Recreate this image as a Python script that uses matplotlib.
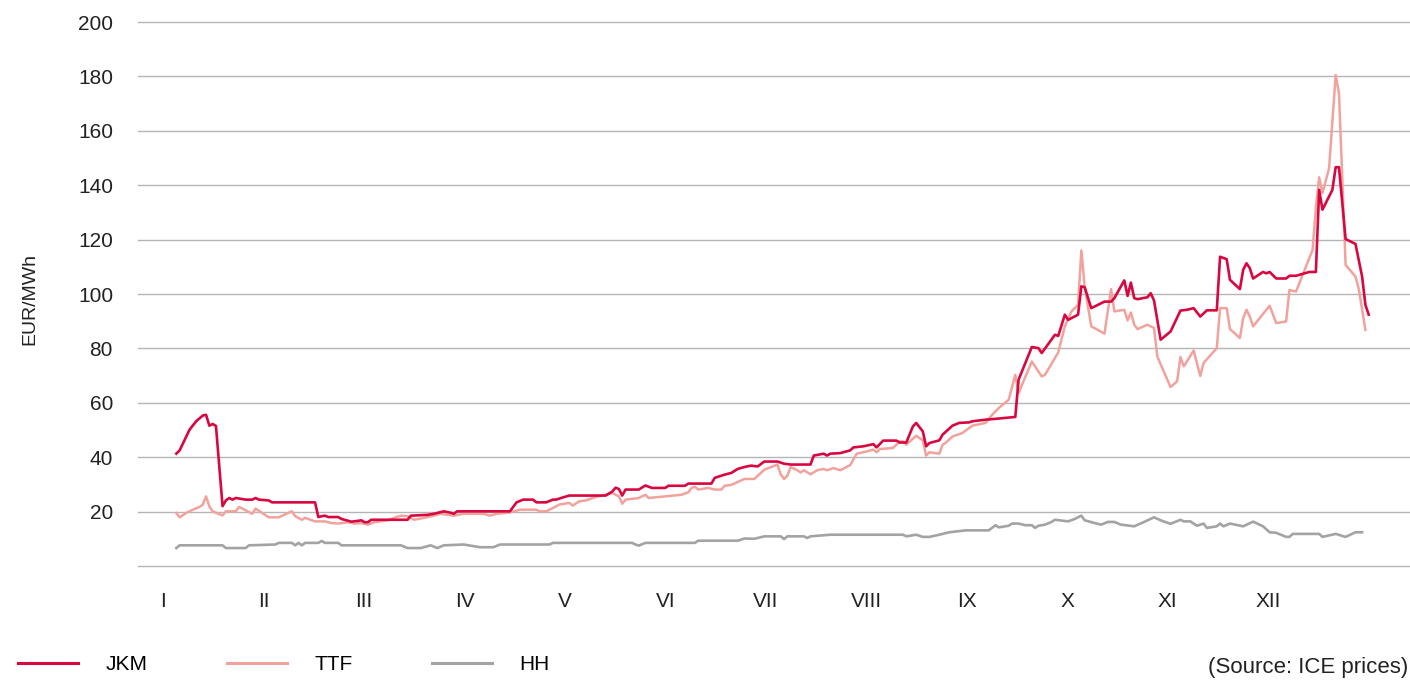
import matplotlib.pyplot as plt
import matplotlib.lines as mlines

plt.rcParams['font.family'] = ['Liberation Sans', 'DejaVu Sans']

# day of year (2021) and price in EUR/MWh
jkm_days = [4, 5, 7, 8, 10, 12, 13, 14, 15, 16, 18, 19, 20, 21, 22, 25, 27, 28, 29, 32, 33,
            46, 47, 48, 49, 50, 53, 54, 57, 59, 60, 61, 62, 63, 74, 75, 80, 82, 83, 85, 87,
            88, 89, 105, 107, 109, 112, 113, 116, 118, 119, 121, 123, 134, 136, 137, 138, 139,
            140, 144, 146, 148, 152, 153, 158, 159, 166, 167, 170, 172, 174, 176, 178, 180,
            182, 186, 188, 190, 196, 197, 200, 201, 202, 205, 208, 209, 212, 215, 216, 218,
            222, 223, 225, 227, 228, 230, 231, 232, 235, 236, 239, 241, 244, 245, 249, 252,
            258, 259, 263, 265, 266, 270, 271, 273, 274, 277, 278, 279, 281, 285, 287, 288,
            291, 292, 293, 294, 295, 298, 299, 300, 302, 305, 308, 310, 312, 314, 316, 319,
            320, 322, 323, 326, 327, 328, 329, 330, 333, 334, 335, 337, 340, 341, 343, 347,
            349, 350, 351, 354, 355, 356, 358, 361, 363, 364, 365]
jkm_vals = [41.3, 42.5, 47.6, 50.1, 53.2, 55.3, 55.6, 51.6, 52.2, 51.5, 22.0, 24.1, 25.0, 24.4,
            25.0, 24.4, 24.4, 25.0, 24.4, 24.1, 23.4, 23.4, 18.0, 18.3, 18.5, 18.0, 18.0, 17.3,
            16.3, 16.6, 16.8, 16.1, 16.1, 17.0, 17.0, 18.5, 18.8, 19.2, 19.5, 20.1, 19.6, 19.2,
            20.1, 20.1, 23.4, 24.4, 24.4, 23.4, 23.4, 24.4, 24.4, 25.2, 25.9, 25.9, 27.4, 28.8,
            28.3, 25.9, 28.1, 28.1, 29.6, 28.7, 28.7, 29.5, 29.5, 30.3, 30.3, 32.4, 33.6, 34.2,
            35.7, 36.4, 36.9, 36.6, 38.4, 38.4, 37.6, 37.3, 37.3, 40.6, 41.3, 40.6, 41.3, 41.5,
            42.5, 43.6, 44.0, 44.8, 43.6, 46.1, 46.1, 45.4, 45.4, 51.3, 52.6, 49.5, 44.0, 45.2,
            46.2, 48.3, 51.6, 52.6, 52.8, 53.2, 53.8, 54.1, 54.8, 68.5, 80.5, 80.1, 78.3, 85.0,
            84.6, 92.4, 90.5, 92.4, 102.8, 102.5, 94.8, 97.2, 97.2, 98.5, 105.0, 99.3, 104.2,
            98.5, 98.1, 98.8, 100.3, 97.6, 83.2, 86.2, 93.9, 94.2, 94.8, 91.7, 94.0, 94.0,
            113.7, 112.8, 105.2, 101.8, 108.9, 111.3, 109.5, 105.7, 108.1, 107.6, 108.1, 105.7,
            105.7, 106.7, 106.7, 108.1, 108.1, 138.3, 131.0, 138.3, 146.6, 146.6, 120.2, 118.4,
            106.4, 96.0, 92.4]

ttf_days = [4, 5, 7, 9, 11, 12, 13, 14, 15, 18, 19, 22, 23, 25, 27, 28, 30, 32, 35, 39, 40,
            42, 43, 46, 49, 51, 53, 56, 58, 60, 62, 64, 68, 70, 72, 74, 76, 79, 82, 84, 88,
            91, 97, 99, 101, 105, 108, 113, 114, 116, 118, 120, 123, 124, 126, 128, 131, 134,
            136, 138, 139, 140, 144, 146, 147, 152, 157, 159, 160, 161, 162, 165, 167, 169,
            170, 172, 176, 179, 182, 186, 187, 188, 189, 190, 192, 193, 194, 196, 198, 200,
            201, 203, 205, 208, 210, 213, 215, 216, 217, 221, 223, 224, 225, 228, 230, 231,
            232, 235, 236, 237, 239, 242, 245, 249, 251, 253, 256, 258, 259, 263, 266, 267,
            270, 271, 273, 275, 277, 278, 279, 281, 283, 285, 287, 288, 291, 292, 293, 294,
            295, 298, 300, 301, 305, 307, 308, 309, 312, 314, 315, 319, 320, 322, 323, 326,
            327, 328, 329, 330, 335, 337, 340, 341, 343, 348, 349, 350, 351, 353, 355, 356,
            358, 361, 362, 364]
ttf_vals = [19.5, 17.9, 19.5, 20.7, 21.7, 22.5, 25.6, 21.9, 20.1, 18.6, 20.1, 20.1, 21.7, 20.5,
            19.2, 21.1, 19.5, 17.9, 17.9, 20.1, 18.3, 17.0, 17.7, 16.4, 16.4, 15.8, 15.6, 16.1,
            15.6, 15.8, 15.2, 16.1, 16.8, 17.7, 18.5, 18.3, 17.0, 17.7, 18.5, 19.2, 18.5, 19.2,
            19.2, 18.5, 19.2, 19.7, 20.7, 20.7, 20.1, 20.1, 21.3, 22.6, 23.2, 22.2, 23.8, 24.1,
            25.4, 26.2, 26.8, 25.6, 22.9, 24.4, 25.0, 26.2, 25.0, 25.6, 26.2, 27.1, 28.7, 29.1,
            28.1, 28.7, 28.1, 28.1, 29.5, 29.8, 32.0, 32.0, 35.4, 37.3, 33.6, 32.0, 33.2, 36.4,
            35.2, 34.4, 35.2, 33.7, 35.2, 35.7, 35.2, 36.0, 35.2, 37.1, 41.3, 42.1, 42.8, 41.8,
            43.0, 43.4, 45.8, 45.8, 44.6, 47.9, 46.2, 40.6, 41.8, 41.3, 44.6, 45.4, 47.6, 48.9,
            51.6, 52.6, 55.6, 58.1, 61.1, 70.3, 63.6, 75.2, 69.7, 70.3, 76.4, 78.5, 88.1, 93.6,
            96.0, 116.0, 102.8, 88.1, 86.8, 85.4, 101.8, 93.6, 94.2, 90.3, 93.2, 88.7, 87.1,
            88.7, 87.5, 77.0, 65.8, 67.9, 76.8, 73.4, 79.2, 69.9, 74.6, 80.1, 94.8, 94.8, 87.1,
            83.8, 91.1, 94.2, 91.7, 88.1, 95.7, 89.3, 89.9, 101.5, 100.9, 116.2, 131.5, 142.9,
            137.1, 146.2, 180.5, 173.8, 110.7, 106.4, 101.8, 86.8]

hh_days = [4, 5, 18, 19, 25, 26, 34, 35, 39, 40, 41, 42, 43, 47, 48, 49, 53, 54, 72, 74, 78,
           81, 83, 85, 91, 96, 100, 102, 117, 118, 142, 143, 144, 146, 161, 162, 174, 176,
           179, 182, 187, 188, 189, 194, 195, 196, 202, 224, 225, 228, 230, 232, 235, 238,
           243, 250, 252, 253, 256, 257, 259, 261, 263, 264, 265, 267, 269, 270, 274, 276,
           278, 279, 282, 284, 286, 288, 290, 294, 297, 300, 302, 305, 308, 309, 311, 313,
           315, 316, 319, 320, 321, 323, 327, 330, 333, 335, 337, 340, 341, 342, 350, 351,
           355, 358, 361, 363]
hh_vals = [6.6, 7.6, 7.6, 6.6, 6.6, 7.6, 7.9, 8.5, 8.5, 7.6, 8.5, 7.6, 8.5, 8.5, 9.2, 8.5, 8.5,
           7.6, 7.6, 6.6, 6.6, 7.6, 6.6, 7.6, 7.9, 6.9, 6.9, 7.9, 7.9, 8.5, 8.5, 7.9, 7.5, 8.5,
           8.5, 9.3, 9.3, 10.1, 10.0, 10.9, 10.9, 9.9, 10.9, 10.9, 10.3, 10.9, 11.5, 11.5, 10.9,
           11.5, 10.7, 10.7, 11.5, 12.4, 13.1, 13.1, 15.0, 14.2, 14.8, 15.6, 15.6, 15.0, 15.0,
           14.0, 14.8, 15.2, 16.2, 17.0, 16.4, 17.3, 18.5, 16.8, 15.8, 15.2, 16.2, 16.2, 15.2,
           14.6, 16.2, 17.9, 16.8, 15.5, 17.0, 16.4, 16.4, 14.8, 15.6, 14.0, 14.6, 15.6, 14.6,
           15.6, 14.6, 16.3, 14.6, 12.4, 12.2, 10.7, 10.7, 11.8, 11.8, 10.7, 11.8, 10.7, 12.4,
           12.4]

months = ['I', 'II', 'III', 'IV', 'V', 'VI', 'VII', 'VIII', 'IX', 'X', 'XI', 'XII']
series_names = ['JKM', 'TTF', 'HH']
colors = ['#d9073f', '#f2a29c', '#a3a3a3']

fig = plt.figure(figsize=(14.1, 6.81), dpi=100)
ax = fig.add_axes([138 / 1410, 1 - 566 / 681, 1 - 138 / 1410, (566 - 22) / 681])

ax.plot(hh_days, hh_vals, color=colors[2], lw=1.9, zorder=3)
ax.plot(ttf_days, ttf_vals, color=colors[1], lw=1.8, zorder=4)
ax.plot(jkm_days, jkm_vals, color=colors[0], lw=1.9, zorder=5)

ax.set_ylim(0, 200)
ax.set_xlim(-7.6, 377.5)
ax.set_yticks(range(0, 201, 20))
ax.set_yticklabels([''] + [str(v) for v in range(20, 201, 20)])
ax.set_xticks([i * 365 / 12 for i in range(12)])
ax.set_xticklabels(months)
ax.grid(axis='y', color='#b5b5b5', lw=1)
for gl in ax.get_ygridlines():
    gl.set_clip_on(False)
ax.set_axisbelow(True)
for s in ax.spines.values():
    s.set_visible(False)
ax.tick_params(axis='y', length=0, pad=18, labelsize=15, labelcolor='#222222')
ax.tick_params(axis='x', length=0, pad=19, labelsize=15, labelcolor='#222222')

fig.text(30 / 1410, 1 - 299 / 681, 'EUR/MWh', rotation=90, ha='center', va='center',
         fontsize=14, color='#222222')

handles = [mlines.Line2D([], [], color=c, lw=2.2) for c in colors]
fig.legend(handles, series_names, loc='center left', bbox_to_anchor=(18 / 1410, 1 - 665 / 681),
           ncol=3, frameon=False, fontsize=15, handlelength=2.9, handletextpad=1.3,
           columnspacing=3.8, borderpad=0, borderaxespad=0)
fig.text(1408 / 1410, 1 - 668 / 681, '(Source: ICE prices)', ha='right', va='center',
         fontsize=16, color='#222222')

fig.savefig('out.png', dpi=100)
